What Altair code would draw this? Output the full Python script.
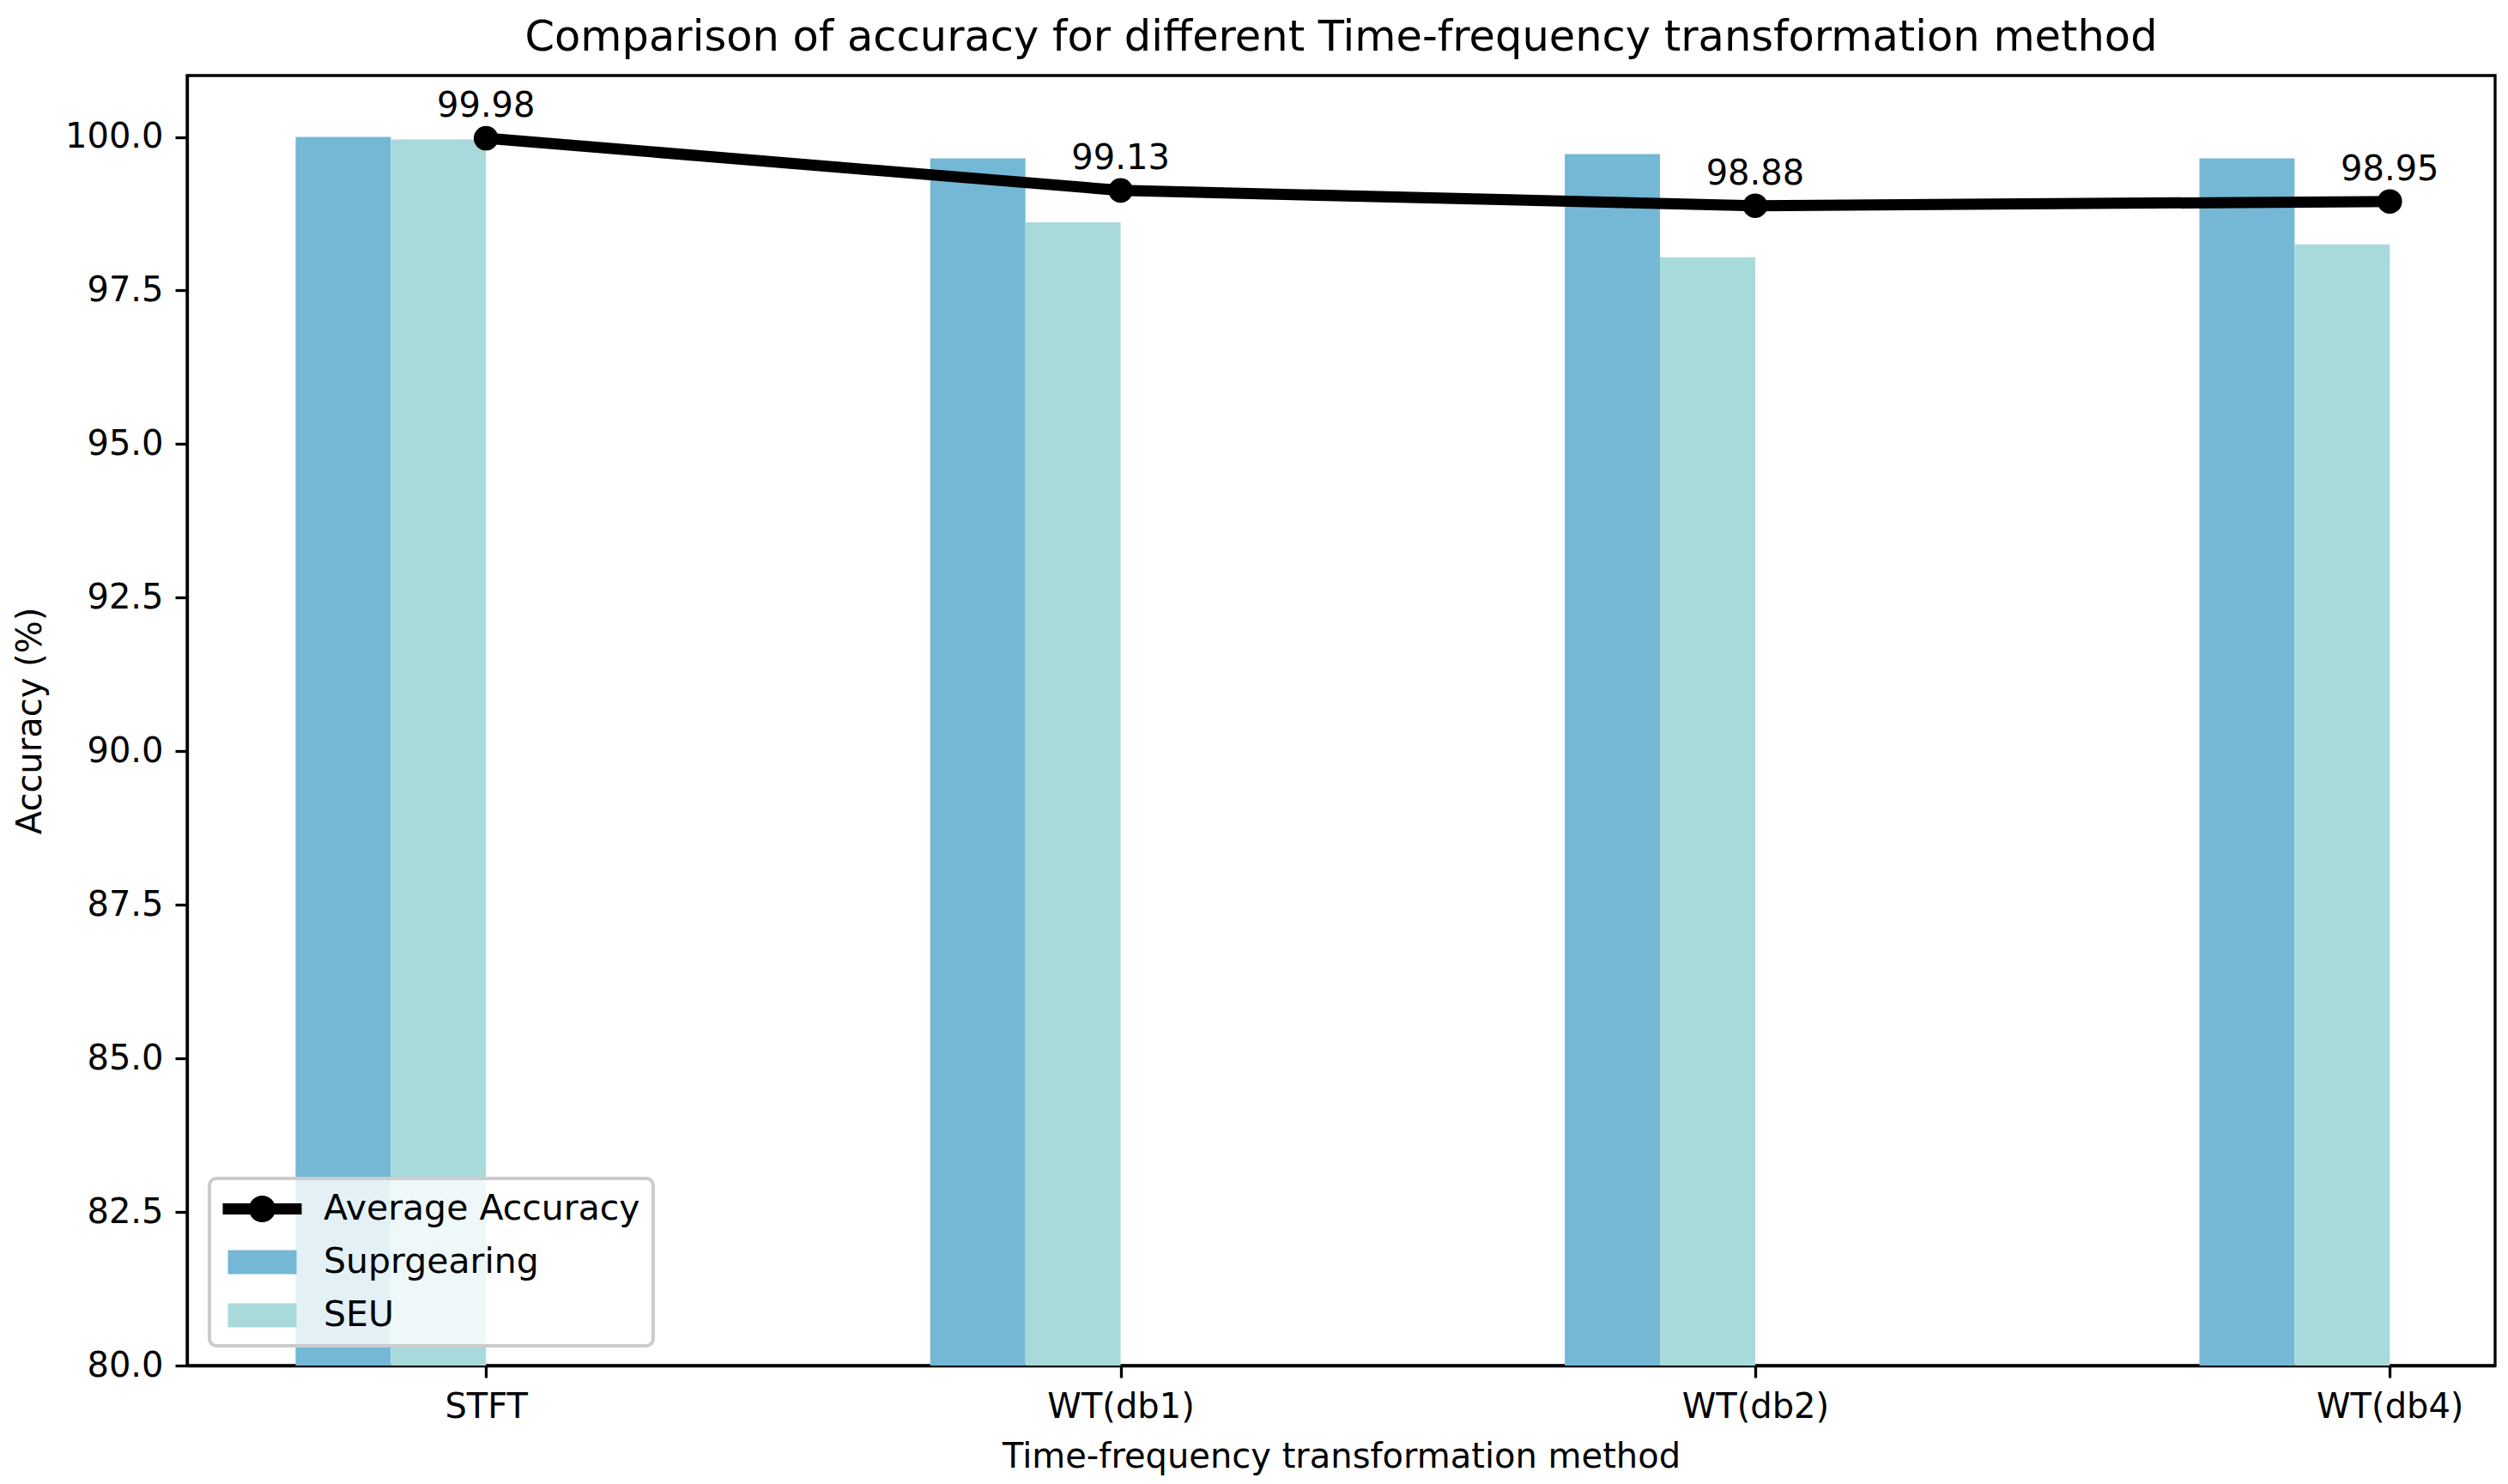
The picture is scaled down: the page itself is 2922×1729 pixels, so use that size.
import json
import altair as alt
import pandas as pd

# ---- data ----
categories = ["STFT", "WT(db1)", "WT(db2)", "WT(db4)"]
suprgearing = [100.0, 99.65, 99.72, 99.65]
seu = [99.96, 98.61, 98.04, 98.25]
average = [99.98, 99.13, 98.88, 98.95]
series_names = ["Average Accuracy", "Suprgearing", "SEU"]
y_ticks = [80.0, 82.5, 85.0, 87.5, 90.0, 92.5, 95.0, 97.5, 100.0]

colors = ["#000000", "#74b8d6", "#a8dadc"]
FONT = "DejaVu Sans"
BAR_W = 0.15

bar_rows = []
for i, cat in enumerate(categories):
    for k, (name, vals) in enumerate([("Suprgearing", suprgearing), ("SEU", seu)]):
        bar_rows.append({"idx": i, "k": k, "category": cat, "series": name, "value": vals[i]})
bars_df = pd.DataFrame(bar_rows)
avg_df = pd.DataFrame({
    "idx": list(range(len(categories))),
    "category": categories,
    "avg": average,
    "label": [f"{v:.2f}" for v in average],
})
legend_df = pd.DataFrame({"series": series_names})

xscale = alt.Scale(domain=[-0.471, 3.166], nice=False, zero=False)
yscale = alt.Scale(domain=[80, 101], nice=False, zero=False)
xaxis = alt.Axis(
    values=list(range(len(categories))),
    labelExpr=f"{json.dumps(categories)}[datum.value]",
    title="Time-frequency transformation method",
    titlePadding=18,
    labelOverlap=False,
    labelFlush=False,
)
yaxis = alt.Axis(values=y_ticks, format=".1f", title="Accuracy (%)", titlePadding=20)

bars = (
    alt.Chart(bars_df)
    .transform_calculate(
        x0=f"datum.idx - {2 * BAR_W} + datum.k * {BAR_W}",
        x1=f"datum.idx - {2 * BAR_W} + (datum.k + 1) * {BAR_W}",
    )
    .mark_bar(strokeWidth=0)
    .encode(
        x=alt.X("x0:Q", scale=xscale, axis=xaxis),
        x2="x1:Q",
        y=alt.Y("value:Q", scale=yscale, axis=yaxis),
        y2=alt.datum(80),
        fill=alt.Fill(
            "series:N",
            scale=alt.Scale(domain=series_names[1:], range=colors[1:]),
            legend=None,
        ),
    )
)

line = (
    alt.Chart(avg_df)
    .mark_line(color="black", strokeWidth=13, strokeCap="square")
    .encode(
        x=alt.X("idx:Q", scale=xscale, axis=xaxis),
        y=alt.Y("avg:Q", scale=yscale, axis=yaxis),
    )
)

points = (
    alt.Chart(avg_df)
    .mark_circle(color="black", size=820, opacity=1)
    .encode(
        x=alt.X("idx:Q", scale=xscale, axis=xaxis),
        y=alt.Y("avg:Q", scale=yscale, axis=yaxis),
    )
)

labels = (
    alt.Chart(avg_df)
    .mark_text(fontSize=40, font=FONT, color="black", baseline="alphabetic", align="center", dy=-25)
    .encode(
        x=alt.X("idx:Q", scale=xscale, axis=xaxis),
        y=alt.Y("avg:Q", scale=yscale, axis=yaxis),
        text="label:N",
    )
)

line_path = (
    "M-2.3,-0.32H2.3V0.32H-2.3Z "
    "M-0.78,0A0.78,0.78,0,1,1,0.78,0A0.78,0.78,0,1,1,-0.78,0Z"
)
patch_path = "M-2,-0.7H2V0.7H-2Z"

legend_def = alt.Legend(
    title=None,
    orient="none",
    legendX=26,
    legendY=1285,
    labelFontSize=41,
    labelFont=FONT,
    labelColor="black",
    labelLimit=1000,
    labelOffset=51,
    symbolSize=1600,
    symbolOffset=26,
    symbolStrokeWidth=0,
    symbolOpacity=1,
    rowPadding=20,
    padding=15,
    fillColor="rgba(255,255,255,0.8)",
    strokeColor="#cccccc",
    cornerRadius=8,
)

legend_layer = (
    alt.Chart(legend_df)
    .transform_filter("false")
    .mark_point(filled=True, opacity=1)
    .encode(
        color=alt.Color("series:N", scale=alt.Scale(domain=series_names, range=colors), legend=legend_def),
        shape=alt.Shape(
            "series:N",
            scale=alt.Scale(domain=series_names, range=[line_path, patch_path, patch_path]),
            legend=legend_def,
        ),
    )
)

chart = (
    alt.layer(bars, line, points, labels, legend_layer)
    .properties(
        width=2689,
        height=1503,
        title=alt.TitleParams(
            "Comparison of accuracy for different Time-frequency transformation method",
            fontSize=49.5,
            font=FONT,
            fontWeight="normal",
            color="black",
            anchor="middle",
            frame="group",
            baseline="alphabetic",
            offset=-20,
        ),
        autosize=alt.AutoSizeParams(type="none"),
        padding={"left": 210, "top": 80, "right": 7, "bottom": 130},
    )
    .configure_view(stroke="black", strokeWidth=3.3)
    .configure_axis(
        domainColor="black",
        domainWidth=3.3,
        tickColor="black",
        tickWidth=3.3,
        tickSize=14,
        labelFontSize=40,
        labelFont=FONT,
        labelColor="black",
        labelPadding=14,
        titleFontSize=40,
        titleFont=FONT,
        titleFontWeight="normal",
        titleColor="black",
        grid=False,
        zindex=1,
    )
    .configure_legend(strokeWidth=4)
)

chart.save("out.html", embed_options={"renderer": "svg", "actions": False})
